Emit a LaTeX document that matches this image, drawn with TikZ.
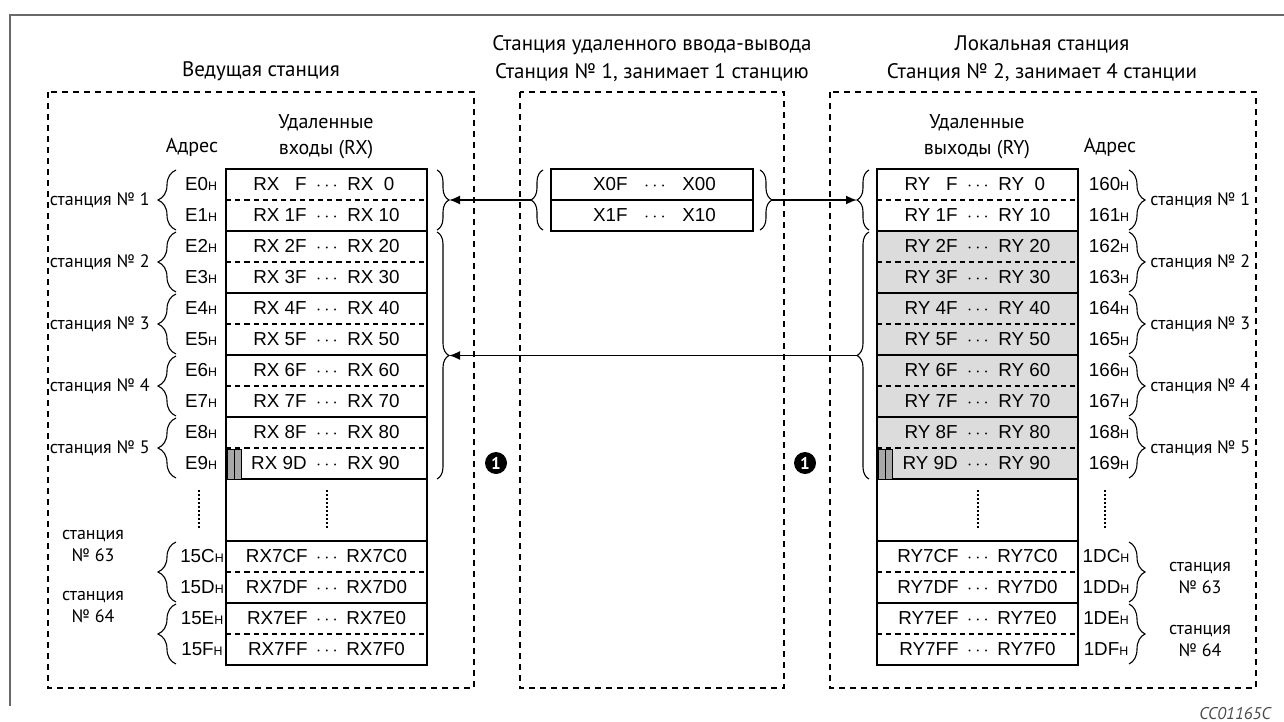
\documentclass[tikz,border=0pt]{standalone}
\usepackage{fontspec}
\setmainfont{PT Sans}
\newfontfamily\tblfont{Liberation Sans}
\usepackage{tikz}
\usetikzlibrary{calc, positioning, arrows.meta, decorations.pathreplacing}
\definecolor{frameGray}{RGB}{105,105,105}
\definecolor{cellGray}{RGB}{220,220,220}
\definecolor{barGray}{RGB}{168,168,168}
\newcommand{\hs}{{\fontsize{6.2}{6.2}\selectfont H}}

\begin{document}
\begin{tikzpicture}[
  x=0.5pt, y=-0.5pt,
  box/.style={line width=0.55pt, dash pattern=on 3pt off 2.5pt},
  rule/.style={line width=0.65pt},
  dashrule/.style={line width=0.55pt, dash pattern=on 2.6pt off 2pt},
  cell/.style={font=\tblfont\fontsize{9.4}{10}\selectfont, inner sep=0pt},
  head/.style={font=\fontsize{10.5}{12}\selectfont, align=center, inner sep=0pt},
  stn/.style={font=\fontsize{9}{11}\selectfont, inner sep=0pt, align=center},
  brc/.style={decorate, decoration={brace, amplitude=#1}, line width=0.55pt},
  arr/.style={-{Latex[length=5.5pt, width=4.5pt]}, line width=0.85pt},
  bar/.style={fill=barGray, draw, line width=0.4pt},
  dots/.style={line width=0.7pt, dash pattern=on 0.8pt off 1.2pt},
  num/.style={circle, fill=black, text=white, inner sep=0pt, minimum size=11pt,
    font=\fontsize{8.5}{9}\selectfont\bfseries}
]
  \useasboundingbox (0,0) rectangle (1284,722);

  % Outer frame
  \draw[frameGray, line width=0.75pt] (1284,15) -- (10,15) -- (10,706);

  % Headers
  \node[head] (hMaster) at (261,71) {Ведущая станция};
  \node[head] (hRemote) at (652,59) {Станция удаленного ввода-вывода\\[2pt]Станция № 1, занимает 1 станцию};
  \node[head] (hLocal) at (1042,59) {Локальная станция\\[2pt]Станция № 2, занимает 4 станции};

  % Station boxes
  \draw[box] (48,92) rectangle (474,688);
  \draw[box] (520,92) rectangle (784,688);
  \draw[box] (830,92) rectangle (1256,688);

  % Column titles
  \node[head, font=\fontsize{10}{12}\selectfont] (lAdr) at (192,147) {Адрес};
  \node[head, font=\fontsize{10}{12}\selectfont] (lRX) at (326,137) {Удаленные\\[1pt]входы (RX)};
  \node[head, font=\fontsize{10}{12}\selectfont] (rRY) at (977,137) {Удаленные\\[1pt]выходы (RY)};
  \node[head, font=\fontsize{10}{12}\selectfont] (rAdr) at (1110,147) {Адрес};

  % Gray area of the local station
  \fill[cellGray] (877,231) rectangle (1078,479);

  % Tables
  \draw[rule] (226,169) rectangle (427,665);
  \draw[rule] (877,169) rectangle (1078,665);
  \draw[rule] (551,169) rectangle (753,231);
  \draw[rule] (551,200) -- (753,200);
  \foreach \y in {231,293,355,417,479,541,603} {
    \draw[rule] (226,\y) -- (427,\y);
    \draw[rule] (877,\y) -- (1078,\y);
  }
  \foreach \y in {200,262,324,386,448,572,634} {
    \draw[dashrule] (226,\y) -- (427,\y);
    \draw[dashrule] (877,\y) -- (1078,\y);
  }

  % Reserved bits
  \draw[bar] (227,449) rectangle (234,479);
  \draw[bar] (234,449) rectangle (241,479);
  \draw[bar] (878,449) rectangle (885,479);
  \draw[bar] (885,449) rectangle (892,479);

  % Rows of the master station
  \foreach \adr/\hi/\lo [count=\i from 0] in {
    E0/{RX \phantom{1}F}/{RX\ \ 0}, E1/RX 1F/RX 10, E2/RX 2F/RX 20,
    E3/RX 3F/RX 30, E4/RX 4F/RX 40, E5/RX 5F/RX 50, E6/RX 6F/RX 60,
    E7/RX 7F/RX 70, E8/RX 8F/RX 80, E9/RX 9D/RX 90%
  } {
    \node[cell, anchor=base] (la\i) at (201,190.5+31*\i) {\adr\hs};
    \node[cell, anchor=base east] (lh\i) at (307,190.5+31*\i) {\hi};
    \node[cell, anchor=base] (ld\i) at (327,190.5+31*\i) {$\cdots$};
    \node[cell, anchor=base west] (ll\i) at (347,190.5+31*\i) {\lo};
  }
  \foreach \adr/\hi/\lo [count=\i from 0] in {
    15C/RX7CF/RX7C0, 15D/RX7DF/RX7D0, 15E/RX7EF/RX7E0, 15F/RX7FF/RX7F0%
  } {
    \node[cell, anchor=base] (lb\i) at (202,562.5+31*\i) {\adr\hs};
    \node[cell, anchor=base east] (lbh\i) at (308,562.5+31*\i) {\hi};
    \node[cell, anchor=base] (lbd\i) at (327,562.5+31*\i) {$\cdots$};
    \node[cell, anchor=base west] (lbl\i) at (346,562.5+31*\i) {\lo};
  }

  % Rows of the local station
  \foreach \adr/\hi/\lo [count=\i from 0] in {
    160/{RY \phantom{1}F}/{RY\ \ 0}, 161/RY 1F/RY 10, 162/RY 2F/RY 20,
    163/RY 3F/RY 30, 164/RY 4F/RY 40, 165/RY 5F/RY 50, 166/RY 6F/RY 60,
    167/RY 7F/RY 70, 168/RY 8F/RY 80, 169/RY 9D/RY 90%
  } {
    \node[cell, anchor=base] (ra\i) at (1109,190.5+31*\i) {\adr\hs};
    \node[cell, anchor=base east] (rh\i) at (958,190.5+31*\i) {\hi};
    \node[cell, anchor=base] (rd\i) at (978,190.5+31*\i) {$\cdots$};
    \node[cell, anchor=base west] (rl\i) at (998,190.5+31*\i) {\lo};
  }
  \foreach \adr/\hi/\lo [count=\i from 0] in {
    1DC/RY7CF/RY7C0, 1DD/RY7DF/RY7D0, 1DE/RY7EF/RY7E0, 1DF/RY7FF/RY7F0%
  } {
    \node[cell, anchor=base] (rb\i) at (1106,562.5+31*\i) {\adr\hs};
    \node[cell, anchor=base east] (rbh\i) at (959,562.5+31*\i) {\hi};
    \node[cell, anchor=base] (rbd\i) at (978,562.5+31*\i) {$\cdots$};
    \node[cell, anchor=base west] (rbl\i) at (997,562.5+31*\i) {\lo};
  }

  % Rows of the remote I/O station
  \node[cell, anchor=base east] (m0h) at (628,190.5) {X0F};
  \node[cell, anchor=base] (m0d) at (655,190.5) {$\cdots$};
  \node[cell, anchor=base west] (m0l) at (682,190.5) {X00};
  \node[cell, anchor=base east] (m1h) at (628,221.5) {X1F};
  \node[cell, anchor=base] (m1d) at (655,221.5) {$\cdots$};
  \node[cell, anchor=base west] (m1l) at (682,221.5) {X10};

  % Skipped rows
  \draw[dots] (199,490) -- (199,528);
  \draw[dots] (327,490) -- (327,528);
  \draw[dots] (978,490) -- (978,528);
  \draw[dots] (1105,490) -- (1105,528);

  % Station braces
  \foreach \k in {1,...,5} {
    \draw[brc=9pt] (176,{169+62*\k-1}) -- (176,{169+62*(\k-1)+1});
    \node[stn, anchor=east] (ls\k) at (150,{200+62*(\k-1)}) {станция № \k};
    \draw[brc=8pt] (1129,{169+62*(\k-1)+1}) -- (1129,{169+62*\k-1});
    \node[stn, anchor=west] (rs\k) at (1150,{200+62*(\k-1)}) {станция № \k};
  }
  \draw[brc=9pt] (176,602) -- (176,542);
  \draw[brc=9pt] (176,664) -- (176,604);
  \node[stn] (ls63) at (93,546) {станция\\№ 63};
  \node[stn] (ls64) at (93,607) {станция\\№ 64};
  \draw[brc=8pt] (1129,542) -- (1129,602);
  \draw[brc=8pt] (1129,604) -- (1129,664);
  \node[stn] (rs63) at (1200,578) {станция\\№ 63};
  \node[stn] (rs64) at (1200,641) {станция\\№ 64};

  % Data braces
  \draw[brc=6pt] (437,170) -- (437,230);
  \draw[brc=6pt] (437,232) -- (437,479);
  \draw[brc=6pt] (543,230) -- (543,170);
  \draw[brc=6pt] (760,170) -- (760,230);
  \draw[brc=6pt] (869,230) -- (869,170);
  \draw[brc=6pt] (869,479) -- (869,232);
  \coordinate (lR1) at (449,200);
  \coordinate (lR2) at (449,355.5);
  \coordinate (mL) at (531,200);
  \coordinate (mR) at (772,200);
  \coordinate (rL1) at (857,200);
  \coordinate (rL2) at (857,355.5);

  % Transfers
  \draw[arr] (mL) -- (lR1);
  \draw[arr] (mR) -- (rL1);
  \draw[arr] (rL2) -- (lR2);

  % Markers
  \node[num] (n1) at (496,463) {1};
  \node[num] (n2) at (805,463) {1};

  \node[font=\fontsize{8.5}{9}\selectfont\itshape, text=black!70] (code) at (1235,714) {CC01165C};
\end{tikzpicture}
\end{document}
